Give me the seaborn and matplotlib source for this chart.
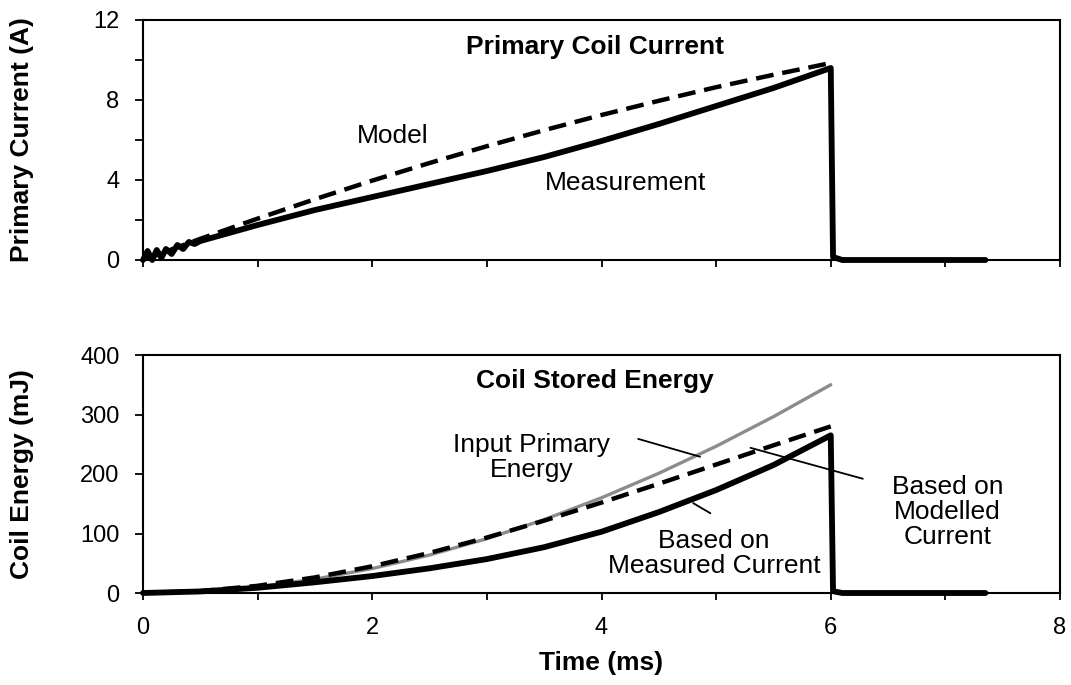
import numpy as np
import pandas as pd
import matplotlib
matplotlib.use("Agg")
import matplotlib.pyplot as plt
import seaborn as sns

# ---------------- data ----------------
# Top panel: primary coil current (A)
t_meas_I = [0.0, 0.04, 0.08, 0.12, 0.16, 0.20, 0.25, 0.30, 0.35, 0.40, 0.45, 0.50,
            1.0, 1.5, 2.0, 2.5, 3.0, 3.5, 4.0, 4.5, 5.0, 5.5, 6.0, 6.02, 6.1, 7.35]
I_meas = [0.0, 0.45, 0.0, 0.5, 0.1, 0.55, 0.3, 0.75, 0.55, 0.9, 0.8, 0.95,
          1.75, 2.5, 3.15, 3.8, 4.45, 5.15, 5.95, 6.8, 7.7, 8.6, 9.6, 0.15, 0.0, 0.0]

t_model_I = [0.0, 0.5, 1.0, 1.5, 2.0, 2.5, 3.0, 3.5, 4.0, 4.5, 5.0, 5.5, 6.0]
I_model = [0.0, 1.06, 2.07, 3.04, 3.97, 4.85, 5.69, 6.49, 7.25, 7.96, 8.64, 9.26, 9.85]

# Bottom panel: coil stored energy (mJ)
t_E_meas = [0.0, 0.5, 1.0, 1.5, 2.0, 2.5, 3.0, 3.5, 4.0, 4.5, 5.0, 5.5, 6.0, 6.02, 6.1, 7.35]
E_meas = [0.0, 2.6, 8.8, 18, 28.5, 41.5, 57, 77, 103, 136, 173, 215, 265, 3, 0, 0]

t_E_model = [0.0, 0.5, 1.0, 1.5, 2.0, 2.5, 3.0, 3.5, 4.0, 4.5, 5.0, 5.5, 6.0]
E_model = [0.0, 3.1, 12.1, 26.2, 44.9, 67.4, 93.2, 121.6, 152, 183.6, 215.9, 248.2, 280]

t_E_input = [0.0, 0.5, 1.0, 1.5, 2.0, 2.5, 3.0, 3.5, 4.0, 4.5, 5.0, 5.5, 6.0]
E_input = [0.0, 2.6, 10.4, 23.3, 41.1, 63.8, 91.3, 123.4, 160, 201.2, 246.6, 296.3, 350]

top_yticks = [0, 2, 4, 6, 8, 10, 12]
top_yticklabels = ["0", "", "4", "", "8", "", "12"]
bot_yticks = [0, 100, 200, 300, 400]
xticks = [0, 1, 2, 3, 4, 5, 6, 7, 8]
xticklabels = ["0", "", "2", "", "4", "", "6", "", "8"]

# ---------------- style ----------------
sns.set_theme(style="ticks")
plt.rcParams["font.family"] = ["Liberation Sans", "DejaVu Sans"]
plt.rcParams["text.color"] = "black"
plt.rcParams["axes.labelcolor"] = "black"
plt.rcParams["axes.linewidth"] = 1.5
plt.rcParams["xtick.major.width"] = 1.3
plt.rcParams["ytick.major.width"] = 1.3
plt.rcParams["xtick.color"] = "black"
plt.rcParams["ytick.color"] = "black"
plt.rcParams["axes.edgecolor"] = "black"

FS = 19
TFS = 17

fig = plt.figure(figsize=(10.71, 6.85), dpi=100)
ax1 = fig.add_axes([143 / 1071, 1 - 260 / 685, (1060 - 143) / 1071, 240 / 685])
ax2 = fig.add_axes([143 / 1071, 1 - 593 / 685, (1060 - 143) / 1071, 238 / 685])

df_mI = pd.DataFrame({"t": t_meas_I, "I": I_meas})
df_pI = pd.DataFrame({"t": t_model_I, "I": I_model})
df_mE = pd.DataFrame({"t": t_E_meas, "E": E_meas})
df_pE = pd.DataFrame({"t": t_E_model, "E": E_model})
df_iE = pd.DataFrame({"t": t_E_input, "E": E_input})

# top panel
sns.lineplot(data=df_pI, x="t", y="I", ax=ax1, color="black", lw=3.2,
             estimator=None, sort=False)
ax1.lines[-1].set_dashes((4, 2))
sns.lineplot(data=df_mI, x="t", y="I", ax=ax1, color="black", lw=4.2,
             estimator=None, sort=False, clip_on=False)

# bottom panel
sns.lineplot(data=df_iE, x="t", y="E", ax=ax2, color="#8c8c8c", lw=2.4,
             estimator=None, sort=False)
sns.lineplot(data=df_pE, x="t", y="E", ax=ax2, color="black", lw=3.2,
             estimator=None, sort=False)
ax2.lines[-1].set_dashes((4, 2))
sns.lineplot(data=df_mE, x="t", y="E", ax=ax2, color="black", lw=4.2,
             estimator=None, sort=False, clip_on=False)

for ax in (ax1, ax2):
    ax.set_xlim(0, 8)
    ax.set_xticks(xticks)
    for s in ax.spines.values():
        s.set_visible(True)
        s.set_color("black")
        s.set_linewidth(1.5)
    ax.tick_params(axis="y", direction="out", length=6, labelsize=TFS, pad=11,
                   colors="black")
    ax.tick_params(axis="x", direction="out", length=5, labelsize=TFS, pad=12,
                   colors="black")
    ax.set_facecolor("white")

ax1.set_ylim(0, 12)
ax1.set_yticks(top_yticks)
ax1.set_yticklabels(top_yticklabels)
ax1.set_xticklabels([])
ax1.set_xlabel("")
ax1.set_ylabel("Primary Current (A)", fontsize=FS, fontweight="bold")

ax2.set_ylim(0, 400)
ax2.set_yticks(bot_yticks)
ax2.set_xticklabels(xticklabels)
ax2.set_xlabel("Time (ms)", fontsize=FS, fontweight="bold", labelpad=9)
ax2.set_ylabel("Coil Energy (mJ)", fontsize=FS, fontweight="bold")

# align y labels (anchor = right edge of the rotated text)
ax1.yaxis.set_label_coords(-0.119, 0.5)
ax2.yaxis.set_label_coords(-0.119, 0.5)

# titles and annotations
ax1.text(3.94, 10.28, "Primary Coil Current", fontsize=FS, fontweight="bold",
         ha="center", va="baseline")
ax1.text(2.18, 5.85, "Model", fontsize=FS, ha="center", va="baseline")
ax1.text(4.21, 3.5, "Measurement", fontsize=FS, ha="center", va="baseline")

ax2.text(3.94, 345, "Coil Stored Energy", fontsize=FS, fontweight="bold",
         ha="center", va="baseline")
ax2.text(3.39, 227, "Input Primary\nEnergy", fontsize=FS, ha="center",
         va="center", multialignment="center", linespacing=1.05)
ax2.text(4.98, 66, "Based on\nMeasured Current", fontsize=FS, ha="center",
         va="center", multialignment="center", linespacing=1.05)
ax2.text(7.02, 136, "Based on\nModelled\nCurrent", fontsize=FS, ha="center",
         va="center", multialignment="center", linespacing=1.05)

# leader lines
ax2.plot([4.32, 4.86], [259, 229], color="black", lw=1.3)
ax2.plot([4.80, 4.95], [151, 134], color="black", lw=1.3)
ax2.plot([5.30, 6.28], [244, 192], color="black", lw=1.3)

fig.savefig("out.png", dpi=100, facecolor="white")
